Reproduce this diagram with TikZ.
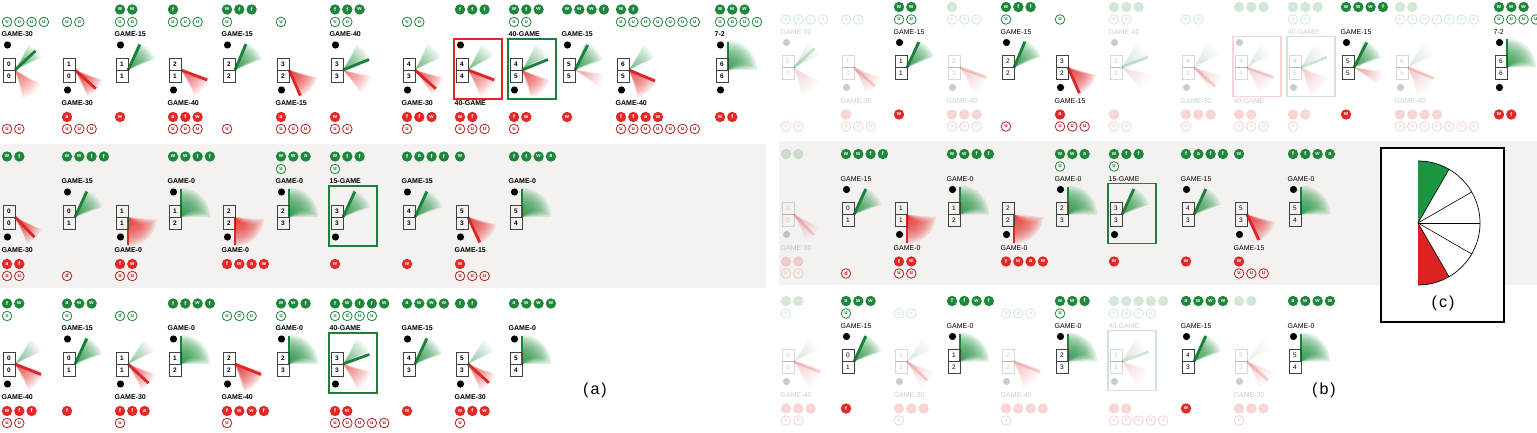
\documentclass[tikz,border=0pt]{standalone}
\usepackage{fontspec}
\setmainfont{Liberation Sans}
\definecolor{gN}{RGB}{28,128,58}
\definecolor{rN}{RGB}{222,38,38}
\definecolor{gF}{RGB}{40,150,70}
\definecolor{rF}{RGB}{232,50,50}
\definecolor{gC}{RGB}{30,135,60}
\definecolor{rC}{RGB}{228,40,40}
\definecolor{bandc}{RGB}{244,242,240}
\definecolor{cG}{RGB}{26,150,65}
\definecolor{cR}{RGB}{220,35,35}
\newcommand\lfont{\bfseries}
\newcommand\fadefac{1}
\tikzset{
 sbox/.style={draw=black!75, line width=0.7pt, minimum width=12pt, minimum height=12pt, inner sep=0pt, font=\lfont\fontsize{6.5}{7}\selectfont},
 lab/.style={inner sep=0pt, font=\lfont\fontsize{7}{8}\selectfont},
 circ/.style={circle, inner sep=0pt, minimum size=10.4pt, font=\bfseries\fontsize{5.5}{6}\selectfont},
 cgf/.style={circ, fill=gC, text=white},
 cgo/.style={circ, draw=gC, line width=0.8pt, text=gC, minimum size=9.6pt},
 crf/.style={circ, fill=rC, text=white},
 cro/.style={circ, draw=rC!80!black, line width=0.8pt, text=rC!80!black, minimum size=9.6pt},
 faded/.code={\pgfkeysalso{opacity=0.2}\def\fadefac{0.2}},
 fadeif/.code={\ifcsname fd@#1\endcsname\pgfkeysalso{faded}\fi},
 panlab/.style={inner sep=0pt, font=\fontsize{16}{18}\selectfont}
}
\newcommand\qS[2]{\node[sbox] at (6,-64) {#1};\node[sbox] at (6,-76) {#2};}
\newcommand\qN[2]{\draw[line width=2.8pt,#2] (12,-70) -- ++(#1:28);}
\newcommand\qF[5]{\foreach \k in {0,...,11}{\pgfmathsetmacro\qop{0.75*#5*\fadefac}%
 \fill[#1,fill opacity=\qop] (12,-70) -- ++({#2+(#4-#2)*0.045*\k}:{29-2.1*\k}) arc[start angle={#2+(#4-#2)*0.045*\k}, end angle={#3+(#4-#3)*0.045*\k}, radius={29-2.1*\k}] -- cycle;}}
\newcommand\qDU{\fill (4.5,-45) circle[radius=3.6];}
\newcommand\qDD{\fill (4.5,-90) circle[radius=3.6];}
\newcommand\qLU[1]{\node[lab,anchor=west] at (-1.5,-34.5) {#1};}
\newcommand\qLD[1]{\node[lab,anchor=west] at (-1.5,-103.5) {#1};}
\newcommand\qC[3]{\foreach \qL [count=\qI from 0] in {#3}{\node[#2] at ({4+12.3*\qI},#1) {\qL};}}
\newcommand\qTF[1]{\qC{-9.5}{cgf}{#1}}
\newcommand\qTO[1]{\qC{-22}{cgo}{#1}}
\newcommand\qBF[1]{\qC{-117}{crf}{#1}}
\newcommand\qBO[1]{\qC{-129}{cro}{#1}}
\newcommand\qFrame[1]{\draw[#1,line width=1.4pt] (-2,-39) rectangle (46,-99);}
\newcommand\GL[4]{\begin{scope}[shift={(#2,{432-#3})},fadeif=#1]#4\end{scope}}
\newcommand\qpanel{%
\GL{A1}{3}{0}{\qF{gF}{25}{62}{43}{0.13}\qF{rF}{-28}{-75}{-50}{0.1}\qN{43}{gN}\qS{0}{0}\qDU\qLU{GAME-30}\qTO{u,u,u,u}\qBO{u,u}}
\GL{A2}{63}{0}{\qF{rF}{-20}{-65}{-42}{0.18}\qN{-42}{rN}\qS{1}{0}\qDD\qLD{GAME-30}\qTO{u,u}\qBF{a}\qBO{u,u,u}}
\GL{A3}{116}{0}{\qF{gF}{22}{70}{55}{0.18}\qN{65}{gN}\qS{1}{1}\qDU\qLU{GAME-15}\qTF{w,w}\qTO{u,u}\qBF{w}}
\GL{A4}{169}{0}{\qF{rF}{-15}{-62}{-30}{0.12}\qN{-21}{rN}\qS{2}{1}\qDD\qLD{GAME-40}\qTF{f}\qTO{u,u,u}\qBF{a,f,w}\qBO{u,u,u}}
\GL{A5}{223}{0}{\qF{gF}{22}{72}{55}{0.18}\qN{67}{gN}\qS{2}{2}\qDU\qLU{GAME-15}\qTF{w,f,f}\qTO{u}\qBO{u}}
\GL{A6}{277}{0}{\qF{rF}{-15}{-70}{-40}{0.18}\qN{-66}{rN}\qS{3}{2}\qDD\qLD{GAME-15}\qTO{u}\qBF{a}\qBO{u,u,u}}
\GL{A7}{331}{0}{\qF{gF}{18}{62}{40}{0.11}\qF{rF}{-12}{-52}{-32}{0.09}\qN{22}{gN}\qS{3}{3}\qDU\qLU{GAME-40}\qTF{f,f,w}\qTO{u,u}\qBF{w}\qBO{u,u}}
\GL{A8}{403}{0}{\qF{gF}{25}{65}{45}{0.09}\qF{rF}{-15}{-55}{-35}{0.14}\qN{-42}{rN}\qS{4}{3}\qDD\qLD{GAME-30}\qTO{u,u}\qBF{f,f,w}\qBO{u}}
\GL{A9}{456}{0}{\qF{gF}{28}{62}{45}{0.09}\qF{rF}{-15}{-65}{-40}{0.11}\qN{-21}{rN}\qS{4}{4}\qDU\qLD{40-GAME}\qTF{f,f,f}\qBF{w,f}\qBO{u,u,u}\qFrame{rN}}
\GL{A10}{510}{0}{\qF{gF}{28}{62}{45}{0.09}\qF{rF}{-20}{-72}{-45}{0.14}\qN{22}{gN}\qS{4}{5}\qDD\qLU{40-GAME}\qTF{w,f,w}\qTO{u,u}\qBF{f,w}\qBO{u}\qFrame{gN}}
\GL{A11}{563}{0}{\qF{gF}{20}{70}{50}{0.16}\qF{rF}{-8}{-35}{-20}{0.06}\qN{63}{gN}\qS{5}{5}\qDU\qLU{GAME-15}\qTF{w,w,w,f}\qBF{w}}
\GL{A12}{617}{0}{\qF{gF}{25}{60}{42}{0.09}\qF{rF}{-18}{-72}{-45}{0.14}\qN{-23}{rN}\qS{6}{5}\qDD\qLD{GAME-40}\qTF{w,f}\qTO{u,u,u,u,u,u,u}\qBF{f,f,a,w}\qBO{u,u,u,u,u,u,u}}
\GL{A13}{716}{0}{\qF{gF}{90}{0}{90}{0.18}\qN{90}{gN}\qS{6}{6}\qDU\qDD\qLU{7-2}\qTF{w,w,w}\qTO{u,u,u,u}\qBF{w,f}}
%
\GL{B1}{3}{147}{\qF{rF}{-25}{-65}{-45}{0.17}\qN{-46}{rN}\qS{0}{0}\qDD\qLD{GAME-30}\qTF{w,f}\qBF{a,f}\qBO{u,u}}
\GL{B2}{63}{147}{\qF{gF}{20}{70}{50}{0.17}\qN{65}{gN}\qS{0}{1}\qDU\qLU{GAME-15}\qTF{w,w,f,f}\qBO{d}}
\GL{B3}{116}{147}{\qF{rF}{-90}{-5}{-90}{0.2}\qN{-90}{rN}\qS{1}{1}\qDD\qLD{GAME-0}\qBF{f,w}\qBO{u,u}}
\GL{B4}{169}{147}{\qF{gF}{90}{0}{90}{0.2}\qN{90}{gN}\qS{1}{2}\qDU\qLU{GAME-0}\qTF{w,w,f,f}}
\GL{B5}{223}{147}{\qF{rF}{-90}{-5}{-90}{0.2}\qN{-90}{rN}\qS{2}{2}\qDD\qLD{GAME-0}\qBF{f,w,a,w}}
\GL{B6}{277}{147}{\qF{gF}{90}{0}{90}{0.2}\qN{90}{gN}\qS{2}{3}\qDU\qLU{GAME-0}\qTF{w,w,a}\qTO{u}}
\GL{B7}{331}{147}{\qF{gF}{20}{70}{50}{0.17}\qN{65}{gN}\qS{3}{3}\qDD\qLU{15-GAME}\qTF{w,f,f}\qTO{u}\qBF{w}\qFrame{gN}}
\GL{B8}{403}{147}{\qF{gF}{20}{70}{50}{0.17}\qN{65}{gN}\qS{4}{3}\qDU\qLU{GAME-15}\qTF{f,a,f,f}\qBF{w}}
\GL{B9}{456}{147}{\qF{rF}{-15}{-70}{-45}{0.17}\qN{-65}{rN}\qS{5}{3}\qDD\qLD{GAME-15}\qTF{w}\qBF{w}\qBO{u,u,u}}
\GL{B10}{510}{147}{\qF{gF}{90}{0}{90}{0.2}\qN{90}{gN}\qS{5}{4}\qDU\qLU{GAME-0}\qTF{f,f,w,a}}
%
\GL{C1}{3}{294}{\qF{gF}{25}{58}{40}{0.08}\qF{rF}{-15}{-62}{-35}{0.14}\qN{-22}{rN}\qS{0}{0}\qDD\qLD{GAME-40}\qTF{f,w}\qTO{u}\qBF{w,f,f}\qBO{u,u}}
\GL{C2}{63}{294}{\qF{gF}{20}{70}{50}{0.17}\qN{65}{gN}\qS{0}{1}\qDU\qLU{GAME-15}\qTF{a,w,w}\qTO{u}\qBF{f}}
\GL{C3}{116}{294}{\qF{gF}{25}{58}{40}{0.07}\qF{rF}{-20}{-62}{-40}{0.12}\qN{-43}{rN}\qS{1}{1}\qDD\qLD{GAME-30}\qTO{d,u}\qBF{f,f,a}\qBO{u}}
\GL{C4}{169}{294}{\qF{gF}{90}{0}{90}{0.2}\qN{90}{gN}\qS{1}{2}\qDU\qLU{GAME-0}\qTF{f,f,w,f}}
\GL{C5}{223}{294}{\qF{rF}{-15}{-72}{-40}{0.17}\qN{-22}{rN}\qS{2}{2}\qDD\qLD{GAME-40}\qTO{u,d,u}\qBF{f,w,w,f}\qBO{u}}
\GL{C6}{277}{294}{\qF{gF}{90}{0}{90}{0.2}\qN{90}{gN}\qS{2}{3}\qDU\qLU{GAME-0}\qTF{w,w,f}\qTO{u}}
\GL{C7}{331}{294}{\qF{gF}{25}{62}{42}{0.09}\qF{rF}{-15}{-60}{-38}{0.09}\qN{20}{gN}\qS{3}{3}\qDD\qLU{40-GAME}\qTF{f,w,f,f,w}\qTO{u,d,u,u}\qBF{f,w}\qBO{u,u,u,u,u}\qFrame{gN}}
\GL{C8}{403}{294}{\qF{gF}{20}{70}{50}{0.17}\qN{65}{gN}\qS{4}{3}\qDU\qLU{GAME-15}\qTF{a,w,w,w}\qBF{w}}
\GL{C9}{456}{294}{\qF{gF}{25}{58}{40}{0.06}\qF{rF}{-20}{-65}{-42}{0.12}\qN{-42}{rN}\qS{5}{3}\qDD\qLD{GAME-30}\qTF{f,f}\qBF{w,f,w}\qBO{u}}
\GL{C10}{510}{294}{\qF{gF}{90}{0}{90}{0.2}\qN{90}{gN}\qS{5}{4}\qDU\qLU{GAME-0}\qTF{a,w,w,w}}
}
\begin{document}
\begin{tikzpicture}[x=1pt,y=1pt]
\useasboundingbox (0,0) rectangle (1537,432);
\fill[white] (0,0) rectangle (1537,432);
\fill[bandc] (0,144) rectangle (766,288);
\fill[bandc] (779,147) rectangle (1537,291);
% panel (a)
\qpanel
\node[panlab] (labA) at (595,42) {(\kern2pt a\kern2pt)};
% panel (b)
\foreach \f in {A1,A2,A4,A7,A8,A9,A10,A12,B1,C1,C3,C5,C7,C9}{\expandafter\gdef\csname fd@\f\endcsname{}}
\begin{scope}[xshift=779pt,yshift=2.5pt]
\renewcommand\lfont{\mdseries}
\qpanel
\end{scope}
\node[panlab] (labB) at (1324,42) {(\kern2pt b\kern2pt)};
% panel (c)
\node[draw, line width=1.6pt, fill=white, minimum width=123pt, minimum height=174pt, inner sep=0pt] (cbox) at (1442.5,197) {};
\coordinate (cc) at (1418,209);
\fill[cG] (cc) -- ++(90:62) arc[start angle=90,end angle=60,radius=62] -- cycle;
\fill[cR] (cc) -- ++(-90:62) arc[start angle=-90,end angle=-60,radius=62] -- cycle;
\foreach \a in {60,30,0,-30,-60} \draw[line width=0.6pt] (cc) -- ++(\a:62);
\draw[line width=0.7pt] (cc) ++(90:62) arc[start angle=90,end angle=-90,radius=62];
\node[panlab] (labC) at (1443,129) {(\kern2pt c\kern2pt)};
\end{tikzpicture}
\end{document}
